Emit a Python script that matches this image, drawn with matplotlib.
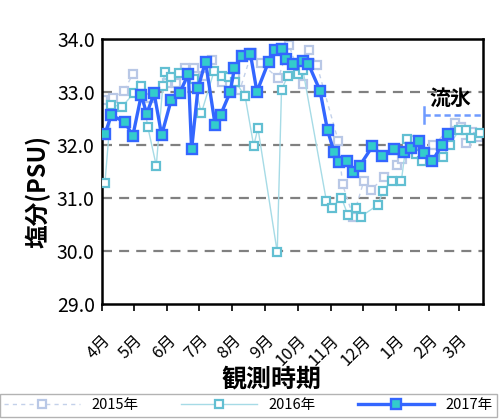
from datetime import date

import matplotlib
matplotlib.use("Agg")
from matplotlib import pyplot as plt

plt.rcParams["font.family"] = ["Noto Sans CJK JP", "DejaVu Sans"]

# observation dates (month/day) and salinity (PSU)
dates_2015 = ["4/2", "4/12", "4/22", "4/30", "5/16", "6/1", "6/9", "6/18", "6/26", "7/5",
              "7/13", "7/22", "8/4", "8/8", "8/19", "8/28", "9/13", "9/23", "10/6", "10/12",
              "10/19", "11/8", "11/12", "11/22", "12/2", "12/9", "12/21", "1/2", "1/7", "1/14",
              "1/23", "2/5", "2/25", "3/3", "3/7", "3/13", "3/19"]
sal_2015 = [32.86, 32.89, 33.03, 33.34, 32.90, 33.18, 33.17, 33.45, 33.45, 33.30,
            33.60, 33.20, 33.29, 33.04, 33.74, 33.55, 33.26, 33.89, 33.15, 33.80,
            33.52, 32.08, 31.26, 30.65, 31.33, 31.16, 31.40, 31.63, 31.74, 32.10,
            31.87, 32.00, 32.41, 32.35, 32.04, 32.25, 32.15]

dates_2016 = ["4/4", "4/10", "4/20", "5/1", "5/8", "5/14", "5/22", "5/28", "5/30", "6/5",
              "6/12", "6/26", "7/3", "7/15", "7/22", "7/29", "8/4", "8/13", "8/21", "8/25",
              "9/12", "9/16", "9/22", "10/1", "10/6", "10/28", "11/2", "11/11", "11/17", "11/25",
              "11/29", "12/15", "12/20", "12/28", "1/6", "1/11", "1/20", "1/25", "2/14", "2/20",
              "3/1", "3/7", "3/12", "3/20"]
sal_2016 = [31.28, 32.76, 32.73, 32.98, 33.12, 32.35, 31.61, 33.11, 33.39, 33.29,
            33.36, 33.25, 32.60, 33.40, 33.30, 33.28, 33.20, 32.92, 31.99, 32.32,
            29.98, 33.05, 33.31, 33.34, 33.42, 30.94, 30.82, 31.01, 30.68, 30.82,
            30.65, 30.87, 31.14, 31.33, 31.33, 32.11, 31.84, 31.71, 31.78, 32.00,
            32.29, 32.29, 32.14, 32.23]

dates_2017 = ["4/4", "4/10", "4/23", "4/30", "5/8", "5/13", "5/20", "5/27", "6/5", "6/13",
              "6/21", "6/24", "6/30", "7/7", "7/16", "7/21", "7/30", "8/3", "8/10", "8/18",
              "8/24", "9/4", "9/10", "9/16", "9/20", "9/27", "10/6", "10/11", "10/22", "10/29",
              "11/4", "11/9", "11/16", "11/22", "11/28", "12/10", "12/19", "12/30", "1/8", "1/15",
              "1/22", "1/27", "2/4", "2/13", "2/19"]
sal_2017 = [32.21, 32.57, 32.43, 32.17, 32.95, 32.59, 32.98, 32.19, 32.86, 32.99,
            33.35, 31.92, 33.08, 33.58, 32.38, 32.57, 33.00, 33.45, 33.69, 33.72,
            33.01, 33.58, 33.80, 33.82, 33.62, 33.53, 33.59, 33.54, 33.03, 32.28,
            31.88, 31.69, 31.71, 31.50, 31.61, 31.98, 31.80, 31.92, 31.88, 31.95,
            32.07, 31.86, 31.70, 32.01, 32.21]

month_starts = ["4/1", "5/1", "6/1", "7/1", "8/1", "9/1", "10/1", "11/1", "12/1", "1/1", "2/1", "3/1"]
month_labels = ["4月", "5月", "6月", "7月", "8月", "9月", "10月", "11月", "12月", "1月", "2月", "3月"]

drift_ice_start = "1/27"   # 流氷 period start
drift_ice_level = 32.57


def to_day(md):
    # days since 1 April of the observation year
    m, d = map(int, md.split("/"))
    y = 2017 if m >= 4 else 2018
    return (date(y, m, d) - date(2017, 4, 1)).days


fig = plt.figure(figsize=(5.02, 4.2), dpi=100)
ax = fig.add_axes([0.2026, 0.2762, 0.759, 0.6302])

ax.plot([to_day(s) for s in dates_2015], sal_2015, linestyle=(0, (3, 3)), color="#c3d1ea", lw=1.0,
        marker="s", ms=5.5, mfc="white", mec="#b9c8e6", mew=1.6, label="2015年", zorder=2)
ax.plot([to_day(s) for s in dates_2016], sal_2016, linestyle="-", color="#a6dbe6", lw=1.0,
        marker="s", ms=5.5, mfc="white", mec="#62bfd2", mew=1.6, label="2016年", zorder=3)
ax.plot([to_day(s) for s in dates_2017], sal_2017, linestyle="-", color="#3366ff", lw=2.4,
        marker="s", ms=7.5, mfc="#33cccc", mec="#3366ff", mew=1.7, label="2017年", zorder=4)

# drift ice period
x0 = to_day(drift_ice_start)
ax.plot([x0, 356], [drift_ice_level, drift_ice_level], linestyle=(0, (2.5, 1.5)), color="#6f9bff",
        lw=1.8, zorder=5)
ax.plot([x0, x0], [drift_ice_level - 0.15, drift_ice_level + 0.15], color="#6f9bff", lw=1.8, zorder=5)
ax.text(x0 + 25, drift_ice_level + 0.12, "流氷", fontsize=15, fontweight="bold",
        ha="center", va="bottom", zorder=6)

ax.set_xlim(0, 356)
ax.set_ylim(29.0, 34.0)
ax.set_yticks([29.0, 30.0, 31.0, 32.0, 33.0, 34.0])
ax.set_yticklabels(["%.1f" % v for v in [29.0, 30.0, 31.0, 32.0, 33.0, 34.0]], fontsize=14)
ax.tick_params(axis="y", length=0, pad=5)
ax.set_xticks([to_day(s) for s in month_starts])
ax.set_xticklabels(month_labels, fontsize=12, rotation=45, ha="right", va="top",
                   rotation_mode="anchor")
ax.tick_params(axis="x", direction="out", length=5, width=1.2, pad=15)

for y in [30.0, 31.0, 32.0, 33.0]:
    ax.axhline(y, color="#808080", lw=1.6, linestyle=(0, (4.5, 3.2)), zorder=1)

for sp in ax.spines.values():
    sp.set_linewidth(1.8)
    sp.set_color("black")

fig.text(38 / 502, 1 - 192 / 420, "塩分(PSU)", rotation=90, fontsize=17, fontweight="bold",
         ha="center", va="center")
fig.text(272 / 502, 1 - 379 / 420, "観測時期", fontsize=18, fontweight="bold", ha="center", va="center")

handles, labels = ax.get_legend_handles_labels()
fig.legend(handles, labels, loc="lower left", bbox_to_anchor=(0.0, 0.008, 0.99, 0.062),
           mode="expand", ncol=3, frameon=True, fancybox=False, edgecolor="#a0a0a0",
           handlelength=5.2, fontsize=10.5, borderaxespad=0, borderpad=0.3)

fig.savefig("out.png", dpi=100)
